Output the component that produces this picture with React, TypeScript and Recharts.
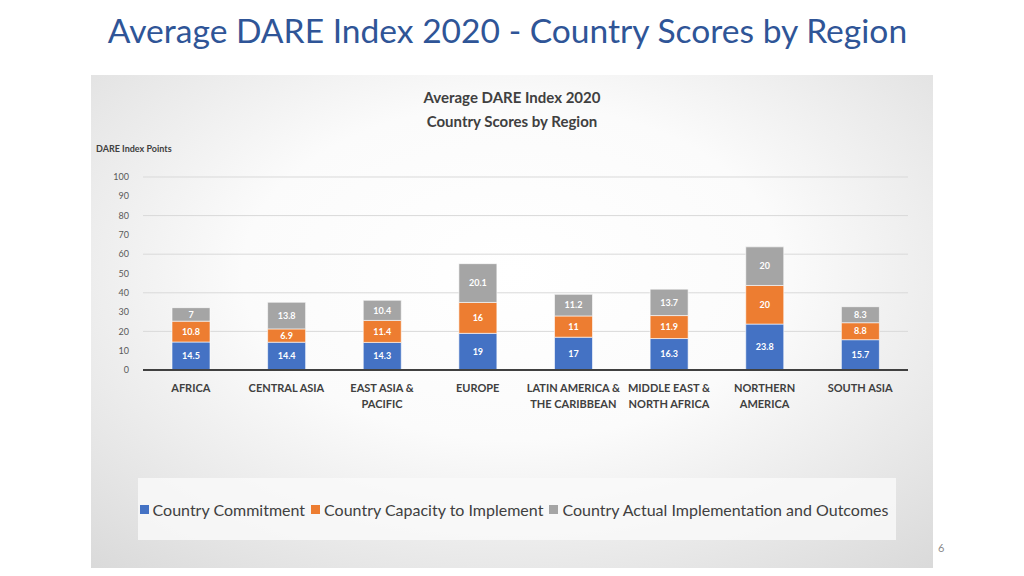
import { BarChart, Bar, XAxis, YAxis, CartesianGrid, Legend, LabelList } from 'recharts';

const regions = [
  'AFRICA',
  'CENTRAL ASIA',
  'EAST ASIA &\nPACIFIC',
  'EUROPE',
  'LATIN AMERICA &\nTHE CARIBBEAN',
  'MIDDLE EAST &\nNORTH AFRICA',
  'NORTHERN\nAMERICA',
  'SOUTH ASIA',
];
const commitment = [14.5, 14.4, 14.3, 19, 17, 16.3, 23.8, 15.7];
const capacity = [10.8, 6.9, 11.4, 16, 11, 11.9, 20, 8.8];
const outcomes = [7, 13.8, 10.4, 20.1, 11.2, 13.7, 20, 8.3];
const yTicks = [0, 10, 20, 30, 40, 50, 60, 70, 80, 90, 100];

const seriesInfo = [
  { key: 'commitment', name: 'Country Commitment', color: '#4472C4' },
  { key: 'capacity', name: 'Country Capacity to Implement', color: '#ED7D31' },
  { key: 'outcomes', name: 'Country Actual Implementation and Outcomes', color: '#A5A5A5' },
];

const data = regions.map((r, i) => ({
  region: r,
  commitment: commitment[i],
  capacity: capacity[i],
  outcomes: outcomes[i],
}));

const FONT = 'Lato, "Open Sans", sans-serif';

const RegionTick = (props: any) => {
  const { x, y, payload } = props;
  const lines = String(payload.value).split('\n');
  return (
    <g transform={`translate(${x},${y})`}>
      {lines.map((l, i) => (
        <text key={i} x={0} y={14 + i * 16} textAnchor="middle" fontSize={11} fontWeight={700}
          fill="#404040" fontFamily={FONT}>{l}</text>
      ))}
    </g>
  );
};

const LegendBox = () => (
  <div style={{
    width: '100%', height: '100%', background: 'rgba(250,250,250,0.8)',
    display: 'flex', alignItems: 'center', justifyContent: 'center',
    fontFamily: FONT, fontSize: 16, color: '#404040', whiteSpace: 'nowrap',
  }}>
    {seriesInfo.map(s => (
      <span key={s.key} style={{ display: 'inline-flex', alignItems: 'center', marginRight: 6 }}>
        <span style={{ width: 9, height: 9, background: s.color, display: 'inline-block', marginRight: 4 }} />
        {s.name}
      </span>
    ))}
  </div>
);

export default function App() {
  return (
    <div style={{ position: 'absolute', left: 0, top: 0, width: 1024, height: 576, background: '#fff', overflow: 'hidden' }}>
      <div style={{
        position: 'absolute', left: 0, width: 1015, top: 10, textAlign: 'center',
        fontFamily: FONT, fontSize: 33.6, color: '#2F5597',
      }}>Average DARE Index 2020 - Country Scores by Region</div>

      <div style={{
        position: 'absolute', left: 91, top: 75, width: 842, height: 493,
        background: 'radial-gradient(ellipse 80% 85% at 50% 40%, #ffffff 0%, #fbfbfb 40%, #d6d6d6 100%)',
      }}>
        <div style={{
          position: 'absolute', left: 0, width: 842, top: 10, textAlign: 'center',
          fontFamily: FONT, fontWeight: 700, fontSize: 15, color: '#404040', lineHeight: '24px',
        }}>Average DARE Index 2020<br />Country Scores by Region</div>
        <div style={{
          position: 'absolute', left: 5, top: 68, fontFamily: FONT, fontWeight: 700,
          fontSize: 9, color: '#404040',
        }}>DARE Index Points</div>

        <BarChart width={842} height={493} data={data}
          margin={{ top: 102, right: 25, bottom: 168, left: 12 }}
          style={{ position: 'absolute', left: 0, top: 0 }}>
          <CartesianGrid vertical={false} stroke="#d9d9d9" />
          <XAxis dataKey="region" tick={<RegionTick />} tickLine={false} height={30}
            axisLine={{ stroke: '#404040', strokeWidth: 2 }} interval={0} />
          <YAxis domain={[0, 100]} ticks={yTicks} width={40} axisLine={false} tickLine={false}
            tick={{ fontSize: 9, fill: '#595959', fontFamily: FONT }} tickMargin={8} />
          <Legend layout="horizontal" verticalAlign="middle" align="center"
            wrapperStyle={{ left: 47, top: 403, width: 758, height: 62 }}
            content={<LegendBox />} />
          {seriesInfo.map(s => (
            <Bar key={s.key} dataKey={s.key} name={s.name} stackId="a" fill={s.color}
              stroke="#ffffff" strokeWidth={0.6} barSize={38} isAnimationActive={false}>
              <LabelList dataKey={s.key} position="center" fill="#ffffff" fontSize={9}
                fontWeight={700} fontFamily={FONT} />
            </Bar>
          ))}
        </BarChart>
      </div>

      <div style={{ position: 'absolute', left: 938, top: 541, fontFamily: FONT, fontSize: 11, color: '#8c8c8c' }}>6</div>
    </div>
  );
}
